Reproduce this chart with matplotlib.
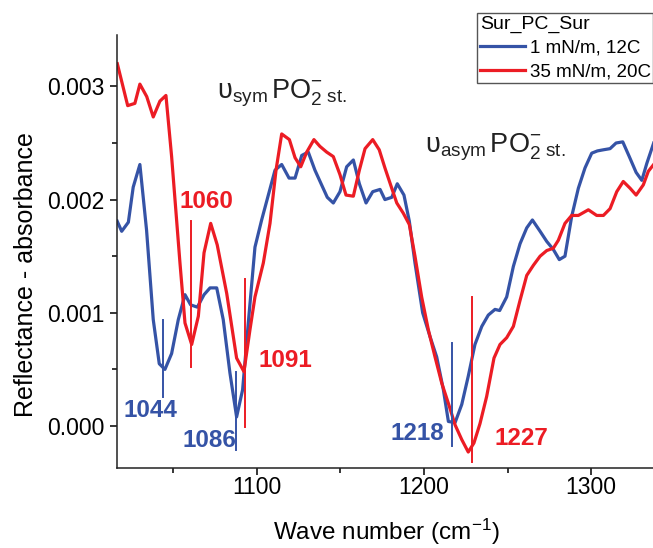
"""Reflectance-absorbance spectra of Sur_PC_Sur in the PO2- stretching region."""

import matplotlib

matplotlib.use("Agg")
import matplotlib.pyplot as plt
from matplotlib import font_manager
from matplotlib.ticker import FormatStrFormatter, MultipleLocator

# --- data (absorbance in units of 1e-3) ---
wn_blue = [1016.3, 1019.0, 1023.0, 1025.9, 1029.9, 1033.9, 1037.9, 1041.5, 1044.9, 1048.9,
           1052.9, 1056.9, 1060.3, 1064.3, 1068.3, 1071.9, 1075.9, 1079.8, 1083.8, 1087.8,
           1091.4, 1094.8, 1098.8, 1102.8, 1106.8, 1110.8, 1114.8, 1119.2, 1122.8, 1126.8,
           1130.7, 1134.7, 1138.7, 1142.1, 1145.7, 1149.7, 1153.7, 1157.7, 1161.3, 1165.3,
           1169.3, 1173.7, 1176.6, 1180.7, 1184.0, 1188.0, 1191.2, 1194.6, 1199.2, 1203.6,
           1207.6, 1211.6, 1214.6, 1218.6, 1222.6, 1226.5, 1230.5, 1234.6, 1238.5, 1242.5,
           1245.3, 1249.5, 1253.5, 1257.5, 1261.5, 1264.9, 1269.5, 1273.5, 1277.4, 1281.0,
           1284.4, 1288.4, 1292.4, 1296.4, 1300.4, 1303.8, 1307.4, 1311.4, 1315.0, 1319.0,
           1322.9, 1327.0, 1330.4, 1333.4, 1337.5]
abs_blue = [1.81, 1.72, 1.80, 2.11, 2.31, 1.73, 0.94, 0.55, 0.50, 0.64,
            0.94, 1.16, 1.07, 1.05, 1.16, 1.22, 1.22, 0.94, 0.47, 0.08,
            0.32, 0.91, 1.58, 1.82, 2.04, 2.26, 2.31, 2.19, 2.19, 2.39,
            2.42, 2.26, 2.13, 2.02, 1.97, 2.07, 2.29, 2.35, 2.14, 1.97,
            2.07, 2.09, 2.00, 2.02, 2.14, 2.04, 1.81, 1.44, 1.00, 0.79,
            0.61, 0.32, 0.04, 0.03, 0.19, 0.44, 0.72, 0.88, 0.98, 1.03,
            1.02, 1.14, 1.41, 1.61, 1.75, 1.82, 1.72, 1.63, 1.56, 1.47,
            1.50, 1.85, 2.10, 2.28, 2.41, 2.43, 2.44, 2.45, 2.50, 2.51,
            2.38, 2.24, 2.17, 2.32, 2.50]

wn_red = [1016.4, 1022.6, 1026.9, 1029.9, 1034.0, 1037.9, 1041.9, 1045.5, 1048.9, 1053.9,
          1056.9, 1060.9, 1064.9, 1068.3, 1072.3, 1076.2, 1081.9, 1087.8, 1092.2, 1095.8,
          1098.8, 1103.8, 1107.8, 1111.4, 1114.8, 1119.4, 1122.8, 1126.2, 1129.8, 1134.1,
          1137.7, 1141.7, 1145.7, 1149.7, 1153.3, 1157.7, 1161.3, 1164.7, 1169.3, 1173.2,
          1176.6, 1180.7, 1183.7, 1187.6, 1191.2, 1194.6, 1198.6, 1202.6, 1206.6, 1210.6,
          1214.6, 1218.6, 1222.6, 1226.5, 1229.9, 1233.5, 1237.5, 1241.9, 1245.5, 1249.5,
          1253.5, 1257.5, 1261.5, 1265.5, 1269.5, 1273.5, 1277.4, 1280.4, 1284.4, 1288.4,
          1292.4, 1298.4, 1303.4, 1307.4, 1311.4, 1315.4, 1319.3, 1323.4, 1327.0, 1331.3,
          1334.3, 1337.5]
abs_red = [3.20, 2.83, 2.85, 3.02, 2.91, 2.73, 2.87, 2.92, 2.38, 1.44,
           0.91, 0.72, 0.97, 1.53, 1.79, 1.60, 1.17, 0.60, 0.48, 0.85,
           1.14, 1.44, 1.79, 2.26, 2.58, 2.53, 2.37, 2.29, 2.42, 2.53,
           2.47, 2.42, 2.38, 2.22, 2.04, 2.03, 2.26, 2.45, 2.53, 2.44,
           2.28, 2.10, 1.97, 1.88, 1.78, 1.50, 1.14, 0.85, 0.61, 0.38,
           0.20, 0.01, -0.12, -0.23, -0.15, 0.02, 0.26, 0.60, 0.72, 0.78,
           0.88, 1.11, 1.33, 1.42, 1.50, 1.55, 1.57, 1.64, 1.79, 1.86,
           1.86, 1.91, 1.86, 1.86, 1.92, 2.07, 2.16, 2.10, 2.04, 2.13,
           2.25, 2.31]

series_labels = ["1 mN/m, 12C", "35 mN/m, 20C"]
legend_title = "Sur_PC_Sur"

# peak markers: position, label, which series, line bottom/top, label anchor
peak_wn = [1043.9, 1060.3, 1087.4, 1092.8, 1216.6, 1228.6]
peak_text = ["1044", "1060", "1086", "1091", "1218", "1227"]
peak_series = [0, 1, 0, 1, 0, 1]
peak_lo = [0.26, 0.52, -0.21, -0.01, -0.18, -0.32]
peak_hi = [0.94, 1.81, 0.48, 1.30, 0.73, 1.14]
label_x = [1036.0, 1069.5, 1071.3, 1117.2, 1195.8, 1258.5]
label_y = [0.080, 1.926, -0.186, 0.521, -0.124, -0.168]

BLUE = "#3553a6"
RED = "#ec1c24"
colors = [BLUE, RED]

names = {f.name for f in font_manager.fontManager.ttflist}
narrow = "Liberation Sans Narrow" if "Liberation Sans Narrow" in names else "Liberation Sans"
narrow_size = 20 if narrow.endswith("Narrow") else 17.5

plt.rcParams["font.family"] = ["Liberation Sans", "DejaVu Sans"]
plt.rcParams["mathtext.fontset"] = "custom"
plt.rcParams["mathtext.rm"] = narrow
plt.rcParams["mathtext.it"] = narrow
plt.rcParams["mathtext.bf"] = narrow + ":bold"

fig = plt.figure(figsize=(6.53, 5.48), dpi=100)
ax = fig.add_axes([117 / 653, 80 / 548, 536 / 653, 433 / 548])

scale = 1e-3
ax.plot(wn_blue, [v * scale for v in abs_blue], color=BLUE, lw=2.3, label=series_labels[0])
ax.plot(wn_red, [v * scale for v in abs_red], color=RED, lw=2.3, label=series_labels[1])

for x, txt, s, lo, hi, lx, ly in zip(peak_wn, peak_text, peak_series, peak_lo, peak_hi,
                                      label_x, label_y):
    ax.plot([x, x], [lo * scale, hi * scale], color=colors[s], lw=1.4)
    ax.text(lx, ly * scale, txt, color=colors[s], fontsize=narrow_size, fontweight="bold",
            family=narrow, ha="center", va="baseline")

ax.text(1076.1, 2.897e-3, r"$\mathrm{\upsilon}_{\mathrm{sym}}\,\mathrm{PO}_{2}^{-}\,{}_{\mathrm{st.}}$",
        fontsize=19.5, ha="left", va="baseline", color="#222222")
ax.text(1200.6, 2.412e-3, r"$\mathrm{\upsilon}_{\mathrm{asym}}\,\mathrm{PO}_{2}^{-}\,{}_{\mathrm{st.}}$",
        fontsize=19.5, ha="left", va="baseline", color="#222222")

ax.set_xlim(1016.2, 1337.1)
ax.set_ylim(-0.371e-3, 3.454e-3)
ax.xaxis.set_major_locator(MultipleLocator(100))
ax.xaxis.set_minor_locator(MultipleLocator(50))
ax.yaxis.set_major_locator(MultipleLocator(0.001))
ax.yaxis.set_minor_locator(MultipleLocator(0.0005))
ax.yaxis.set_major_formatter(FormatStrFormatter("%.3f"))
ax.tick_params(which="major", direction="out", length=5, width=1.1, labelsize=16.5, pad=4)
ax.tick_params(axis="x", which="major", pad=1)
ax.tick_params(which="minor", direction="out", length=3.5, width=1.1)
for side in ("top", "right"):
    ax.spines[side].set_visible(False)
for side in ("left", "bottom"):
    ax.spines[side].set_linewidth(1.1)
    ax.spines[side].set_color("#222222")

ax.set_xlabel(r"Wave number (cm$^{-1}$)", fontsize=17.5)
ax.set_ylabel("Reflectance - absorbance", fontsize=18)
ax.xaxis.set_label_coords(0.503, -0.113)
ax.yaxis.set_label_coords(-0.147, 0.446)

leg = ax.legend(title=legend_title, loc="upper left", bbox_to_anchor=(477 / 653, 1 - 12.7 / 548),
                bbox_transform=fig.transFigure, fontsize=13.5, title_fontsize=14, alignment="left",
                handlelength=2.4, handletextpad=0.25, borderpad=0.15, labelspacing=0.35,
                frameon=True, fancybox=False, framealpha=1, borderaxespad=0)
leg.get_frame().set_edgecolor("#555555")
leg.get_frame().set_linewidth(1.0)

fig.savefig("out.png", dpi=100)
